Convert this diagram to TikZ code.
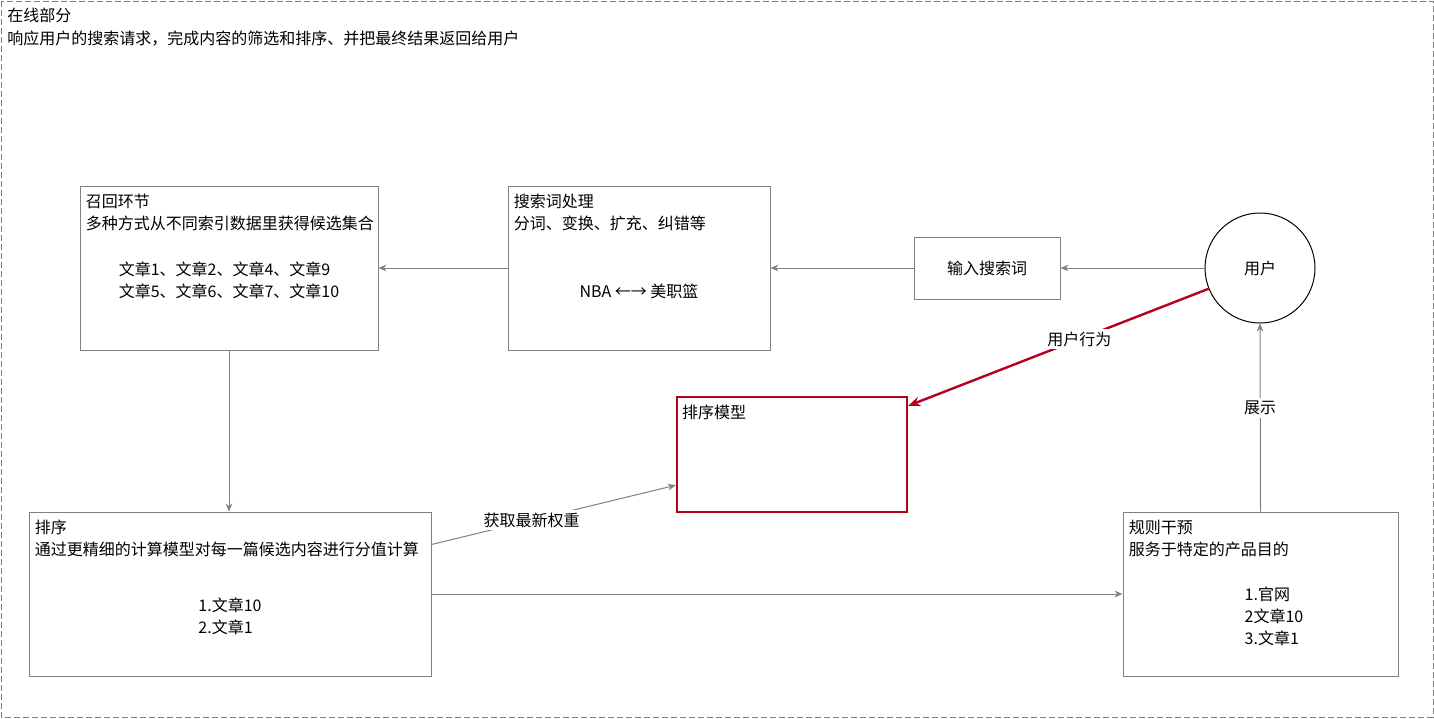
\documentclass[tikz,border=0pt]{standalone}
\usepackage{fontspec}
\setmainfont{Noto Sans CJK SC}
\usetikzlibrary{arrows.meta}
\definecolor{linegray}{HTML}{808080}
\definecolor{alertred}{HTML}{B5001E}
\tikzset{
    stage/.style = {
        draw=linegray, line width=0.75pt, inner sep=0, minimum width=#1
    },
    words/.style = {
        inner sep=0, align=left, font=\fontsize{12}{16.5}\selectfont
    },
    flow/.style = {
        draw=linegray, line width=0.75pt, -{Stealth[length=6pt,width=5pt]}
    },
    tag/.style = {
        fill=white, text=black, inner sep=2pt, font=\fontsize{12}{14}\selectfont
    }
}
\begin{document}
\begin{tikzpicture}[x=0.75pt, y=-0.75pt]
    \useasboundingbox (0,0) rectangle (1434,718);
    \draw[linegray, line width=0.75pt, dash pattern=on 4.5pt off 2.25pt] (1,1) rectangle (1433,717);
    \node[words, anchor=north west, font=\fontsize{12}{17}\selectfont] (online) at (7,8) {在线部分\\响应用户的搜索请求，完成内容的筛选和排序、并把最终结果返回给用户};

    \node[stage=223.5pt, minimum height=123pt] (recall) at (229,268) {};
    \node[stage=196.5pt, minimum height=123pt] (process) at (639,268) {};
    \node[stage=109.5pt, minimum height=46.5pt] (query) at (987,268) {};
    \node[stage=82.5pt, circle, draw=black] (user) at (1260,268) {};
    \node[stage=172.5pt, minimum height=86.25pt, draw=alertred, line width=1.8pt] (model) at (792,454.5) {};
    \node[stage=301.5pt, minimum height=123pt] (rank) at (230,594) {};
    \node[stage=206.25pt, minimum height=123pt] (rules) at (1260.5,594) {};

    \node[words, anchor=north west] at ([xshift=4.5pt,yshift=-6.5pt]recall.north west) {召回环节\\多种方式从不同索引数据里获得候选集合};
    \node[words] at (229,280) {文章1、文章2、文章4、文章9\\文章5、文章6、文章7、文章10};
    \node[words, anchor=north west] at ([xshift=4.5pt,yshift=-6.5pt]process.north west) {搜索词处理\\分词、变换、扩充、纠错等};
    \node[words] at (639,291) {NBA ←→ 美职篮};
    \node[words] at (query.center) {输入搜索词};
    \node[words] at (user.center) {用户};
    \node[words, anchor=north west] at ([xshift=4.5pt,yshift=-6.5pt]model.north west) {排序模型};
    \node[words, anchor=north west] at ([xshift=4.5pt,yshift=-6.5pt]rank.north west) {排序\\通过更精细的计算模型对每一篇候选内容进行分值计算};
    \node[words] at (230,616) {1.文章10\\2.文章1};
    \node[words, anchor=north west] at ([xshift=4.5pt,yshift=-6.5pt]rules.north west) {规则干预\\服务于特定的产品目的};
    \node[words] at (1274,616) {1.官网\\2文章10\\3.文章1};

    \draw[flow] (user.west) -- (query.east);
    \draw[flow] (query.west) -- (process.east);
    \draw[flow] (process.west) -- (recall.east);
    \draw[flow] (recall.south) -- (recall.south |- rank.north);
    \draw[flow] ([yshift=-24.75pt]rank.north east) -- node[tag, pos=0.41] {获取最新权重} ([yshift=21pt]model.south west);
    \draw[flow] (rank.east) -- (rules.west);
    \draw[flow] (rules.north) -- node[tag, pos=0.55] {展示} (user.south);
    \draw[alertred, line width=1.8pt, -{Stealth[length=9pt,width=7pt]}] (user.202) -- node[tag, pos=0.43] {用户行为} ([yshift=-7.5pt]model.north east);
\end{tikzpicture}
\end{document}
